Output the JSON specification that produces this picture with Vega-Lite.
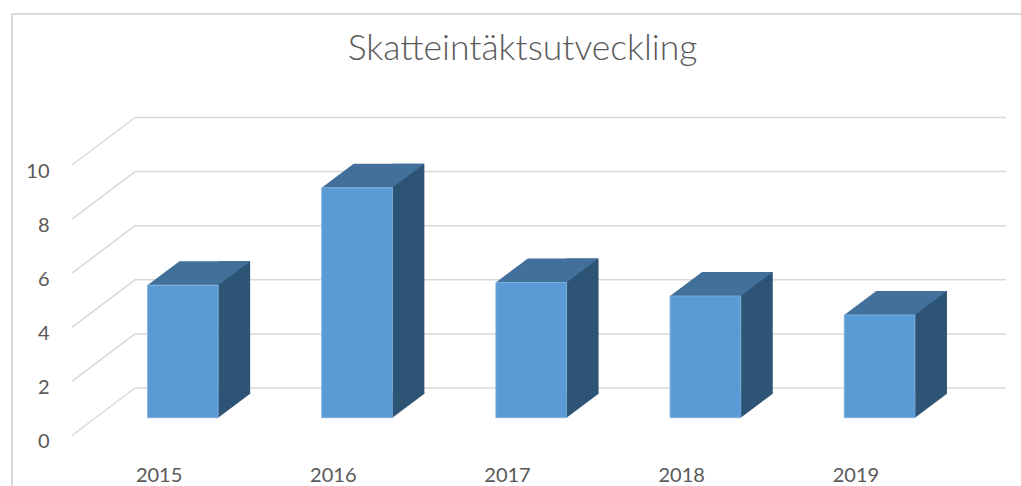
{
  "$schema": "https://vega.github.io/schema/vega-lite/v6.json",
  "autosize": {"type": "none"},
  "padding": {"left": 72, "top": 165, "right": 78, "bottom": 50.5},
  "width": 871,
  "height": 270.5,
  "background": "white",
  "config": {
    "view": {"stroke": null},
    "font": "Lato",
    "axis": {"title": null},
    "axisY": {"domain": false, "ticks": false, "grid": false, "labelFont": "Lato", "labelFontSize": 20, "labelColor": "#595959", "labelPadding": 23, "labelOffset": 6},
    "axisX": {"domain": false, "ticks": false, "grid": false, "labelFont": "Lato", "labelFontSize": 20, "labelColor": "#595959", "labelPadding": 30, "labelAngle": 0}
  },
  "title": {"text": "Skatteintäktsutveckling", "frame": "group", "anchor": "middle", "dx": 15, "offset": -82.6, "baseline": "alphabetic", "font": "Lato", "fontSize": 35.5, "fontWeight": 300, "color": "#595959"},
  "datasets": {
    "bars": [
      {"year": "2015", "value": 4.9},
      {"year": "2016", "value": 8.5},
      {"year": "2017", "value": 5.0},
      {"year": "2018", "value": 4.5},
      {"year": "2019", "value": 3.8}
    ],
    "grid": [{"v": 0}, {"v": 2}, {"v": 4}, {"v": 6}, {"v": 8}, {"v": 10}],
    "one": [{}]
  },
  "layer": [
    {
      "data": {"name": "one"},
      "mark": {"type": "rule", "color": "#d9d9d9", "strokeWidth": 2, "xOffset": -147.1, "yOffset": -151, "y2Offset": 100},
      "encoding": {
        "x": {"datum": "2015", "type": "nominal", "scale": {"paddingInner": 0.594, "paddingOuter": 0.297}},
        "y": {"datum": 10, "type": "quantitative", "scale": {"domain": [0, 10], "nice": false}},
        "y2": {"datum": 0}
      }
    },
    {
      "data": {"name": "one"},
      "mark": {"type": "rule", "color": "#d9d9d9", "strokeWidth": 2, "xOffset": -147.1, "x2Offset": 200, "yOffset": -151},
      "encoding": {
        "x": {"datum": "2015", "type": "nominal"},
        "x2": {"datum": "2019"},
        "y": {"datum": 10, "type": "quantitative"}
      }
    },
    {
      "data": {"name": "grid"},
      "mark": {"type": "rule", "color": "#d9d9d9", "strokeWidth": 1.5, "xOffset": -24.1, "x2Offset": 150.1, "yOffset": -47.5},
      "encoding": {
        "x": {"datum": "2015", "type": "nominal"},
        "x2": {"datum": "2019"},
        "y": {"field": "v", "type": "quantitative"}
      }
    },
    {
      "data": {"name": "grid"},
      "mark": {"type": "rule", "color": "#d9d9d9", "strokeWidth": 1.5, "xOffset": -87.1, "x2Offset": -24.1, "y2Offset": -47.5},
      "encoding": {
        "x": {"datum": "2015", "type": "nominal"},
        "x2": {"datum": "2015"},
        "y": {"field": "v", "type": "quantitative"},
        "y2": {"field": "v"}
      }
    },
    {
      "data": {"name": "bars"},
      "mark": {"type": "bar", "width": 32, "color": "#2E5475", "xOffset": 75.05, "yOffset": -41.8, "y2Offset": -41.8},
      "encoding": {
        "x": {"field": "year", "type": "nominal"},
        "y": {"field": "value", "type": "quantitative"}
      }
    },
    {
      "data": {"name": "bars"},
      "mark": {"type": "point", "shape": "M 58 -43 L 58 -17.8 L 59.05 -17.8 L 91.05 -41.8 L 91.05 -43 Z", "size": 4, "filled": true, "opacity": 1, "strokeWidth": 0, "color": "#2E5475"},
      "encoding": {
        "x": {"field": "year", "type": "nominal"},
        "y": {"datum": 0, "type": "quantitative"}
      }
    },
    {
      "data": {"name": "bars"},
      "mark": {"type": "point", "shape": "M -11.65 -17.8 L 59.05 -17.8 L 91.05 -41.8 L 20.35 -41.8 Z", "size": 4, "filled": true, "opacity": 1, "strokeWidth": 0, "color": "#41709B"},
      "encoding": {
        "x": {"field": "year", "type": "nominal"},
        "y": {"field": "value", "type": "quantitative"}
      }
    },
    {
      "data": {"name": "bars"},
      "mark": {"type": "bar", "width": 70.7, "color": "#5B9BD5", "stroke": "#7FB1E0", "strokeWidth": 0.8, "xOffset": 23.7, "yOffset": -17.8, "y2Offset": -17.8},
      "encoding": {
        "x": {"field": "year", "type": "nominal"},
        "y": {"field": "value", "type": "quantitative", "axis": {"values": [0, 2, 4, 6, 8, 10]}}
      }
    }
  ]
}
